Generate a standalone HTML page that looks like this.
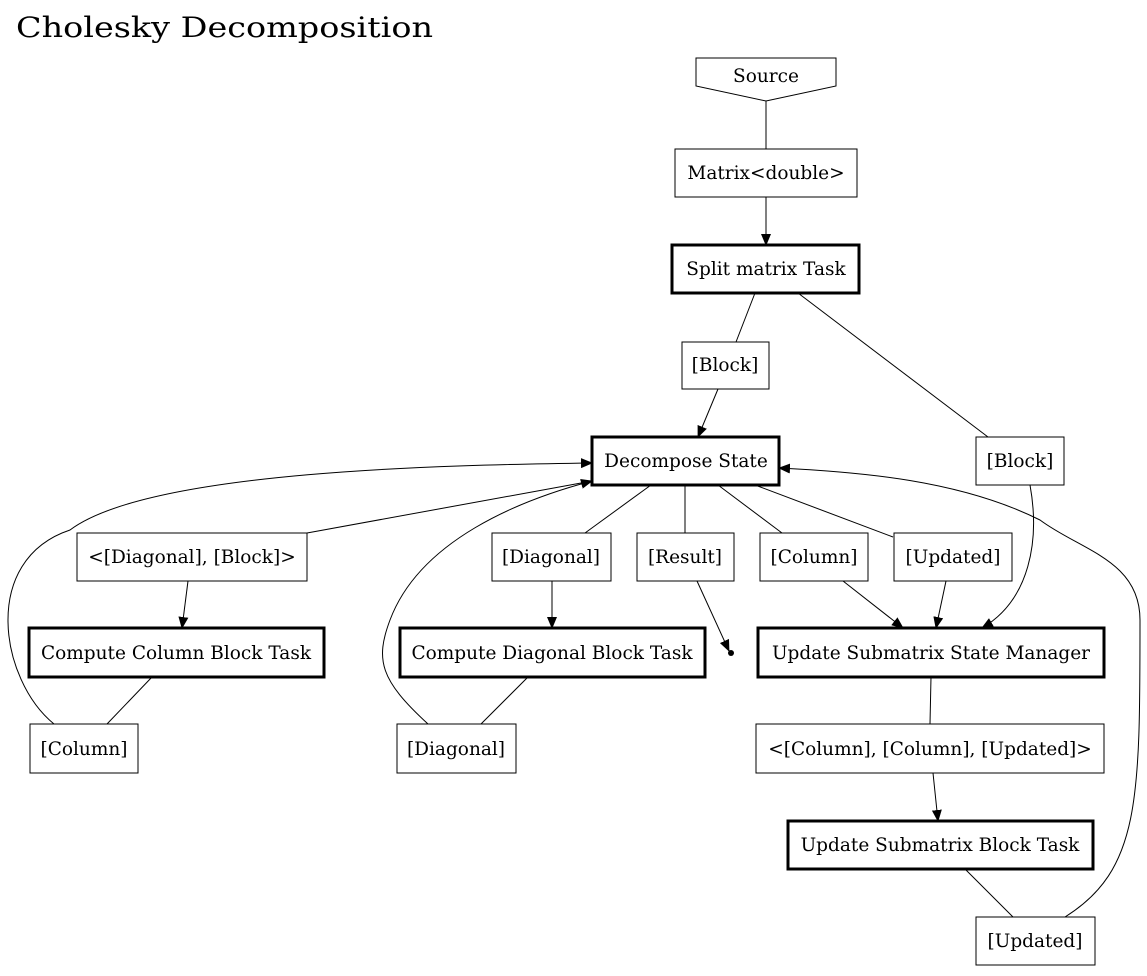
<!DOCTYPE html>
<html><head><meta charset="utf-8"><style>
html,body{margin:0;padding:0;background:#fff;}
svg text{font-family:"DejaVu Serif","Liberation Serif",serif;font-size:18.5px;fill:#000;}
</style></head><body>
<svg width="1147" height="971" viewBox="0 0 1147 971" xmlns="http://www.w3.org/2000/svg">
<defs><marker id="a" markerWidth="12" markerHeight="10" refX="11" refY="5" orient="auto" markerUnits="userSpaceOnUse"><path d="M0,0 L12,5 L0,10 z" fill="#000"/></marker></defs>
<rect width="1147" height="971" fill="#fff"/>
<text x="16" y="37" style="font-size:28px" textLength="417" lengthAdjust="spacingAndGlyphs">Cholesky Decomposition</text>
<g fill="none" stroke="#000" stroke-width="1">
<path d="M696,58 L836,58 L836,86 L766,101 L696,86 Z"/>
<rect x="675" y="149" width="182" height="48"/>
<rect x="682" y="342" width="87" height="47"/>
<rect x="976" y="437" width="88" height="48"/>
<rect x="77" y="533" width="230" height="48"/>
<rect x="492" y="533" width="119" height="48"/>
<rect x="637" y="533" width="97" height="48"/>
<rect x="760" y="533" width="108" height="48"/>
<rect x="894" y="533" width="118" height="48"/>
<rect x="30" y="724" width="108" height="49"/>
<rect x="397" y="724" width="119" height="49"/>
<rect x="756" y="724" width="348" height="49"/>
<rect x="976" y="917" width="119" height="48"/>
</g>
<g fill="none" stroke="#000" stroke-width="3">
<rect x="672" y="245" width="187" height="48"/>
<rect x="592" y="437" width="187" height="48"/>
<rect x="29" y="628" width="295" height="49"/>
<rect x="400" y="628" width="305" height="49"/>
<rect x="758" y="628" width="346" height="49"/>
<rect x="788" y="821" width="305" height="48"/>
</g>
<circle cx="731" cy="653" r="3" fill="#000"/>
<g fill="none" stroke="#000" stroke-width="1">
<path d="M766,101 L766,149"/>
<path d="M766,197 L766,245" marker-end="url(#a)"/>
<path d="M755,293 L736,342"/>
<path d="M798,293 L988,437"/>
<path d="M718,389 L698,437" marker-end="url(#a)"/>
<path d="M1030,485 C1040,540 1030,600 982,628" marker-end="url(#a)"/>
<path d="M651,485 L585,533"/>
<path d="M685,485 L685,533"/>
<path d="M718,485 L782,533"/>
<path d="M755,485 L893,537"/>
<path d="M307,533 L592,481"/>
<path d="M188,581 L182,628" marker-end="url(#a)"/>
<path d="M552,581 L552,628" marker-end="url(#a)"/>
<path d="M697,581 L729,651" marker-end="url(#a)"/>
<path d="M843,581 L903,628" marker-end="url(#a)"/>
<path d="M946,581 L936,628" marker-end="url(#a)"/>
<path d="M152,677 L107,724"/>
<path d="M54,724 C0,680 -20,560 70,530 C150,470 450,465 592,463" marker-end="url(#a)"/>
<path d="M528,677 L481,724"/>
<path d="M428,724 C380,680 375,660 390,620 C420,540 520,500 592,481" marker-end="url(#a)"/>
<path d="M931,677 L930,724"/>
<path d="M933,773 L938,821" marker-end="url(#a)"/>
<path d="M965,869 L1013,917"/>
<path d="M1065,917 C1140,870 1140,800 1140,620 C1140,560 1080,550 1040,520 C960,480 860,472 779,468" marker-end="url(#a)"/>
</g>
<g text-anchor="middle">
<text x="766" y="82">Source</text>
<text x="766" y="179">Matrix&lt;double&gt;</text>
<text x="766" y="275">Split matrix Task</text>
<text x="725" y="371">[Block]</text>
<text x="1020" y="467">[Block]</text>
<text x="686" y="467">Decompose State</text>
<text x="192" y="563">&lt;[Diagonal], [Block]&gt;</text>
<text x="551" y="563">[Diagonal]</text>
<text x="685" y="563">[Result]</text>
<text x="814" y="563">[Column]</text>
<text x="953" y="563">[Updated]</text>
<text x="176" y="659">Compute Column Block Task</text>
<text x="552" y="659">Compute Diagonal Block Task</text>
<text x="931" y="659">Update Submatrix State Manager</text>
<text x="84" y="755">[Column]</text>
<text x="456" y="755">[Diagonal]</text>
<text x="930" y="755">&lt;[Column], [Column], [Updated]&gt;</text>
<text x="940" y="851">Update Submatrix Block Task</text>
<text x="1035" y="947">[Updated]</text>
</g>
</svg>
</body></html>
